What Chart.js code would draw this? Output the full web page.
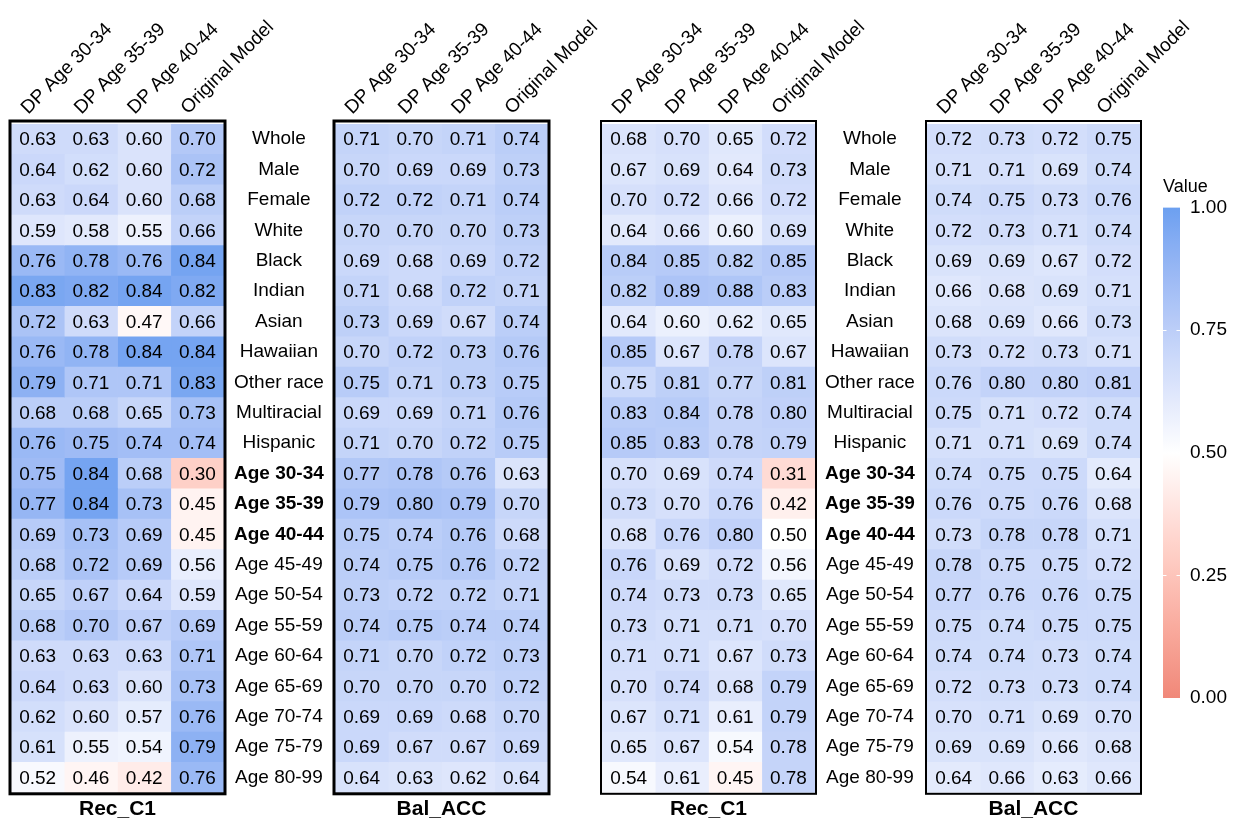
<!DOCTYPE html>
<html>
<head>
<meta charset="utf-8">
<script src="https://cdn.jsdelivr.net/npm/chart.js@4.4.1/dist/chart.umd.min.js"></script>
<style>
  html, body { margin: 0; padding: 0; background: #fff; }
  body { width: 1243px; height: 824px; position: relative; overflow: hidden; }
  canvas { position: absolute; top: 0; }
</style>
</head>
<body>
<canvas id="p1" width="334" height="824" style="left:0px"></canvas>
<canvas id="p2" width="287" height="824" style="left:331px"></canvas>
<canvas id="p3" width="335" height="824" style="left:591px"></canvas>
<canvas id="p4" width="287" height="824" style="left:923px"></canvas>
<canvas id="scale" width="93" height="824" style="left:1150px"></canvas>
<script>
// ---- categories ----
const groups = ['Whole', 'Male', 'Female', 'White', 'Black', 'Indian', 'Asian', 'Hawaiian',
  'Other race', 'Multiracial', 'Hispanic', 'Age 30-34', 'Age 35-39', 'Age 40-44', 'Age 45-49',
  'Age 50-54', 'Age 55-59', 'Age 60-64', 'Age 65-69', 'Age 70-74', 'Age 75-79', 'Age 80-99'];
const models = ['DP Age 30-34', 'DP Age 35-39', 'DP Age 40-44', 'Original Model'];
const protectedGroups = ['Age 30-34', 'Age 35-39', 'Age 40-44'];

// ---- setting A: recall of class 1 ----
const recA_dp3034 = [0.63,0.64,0.63,0.59,0.76,0.83,0.72,0.76,0.79,0.68,0.76,0.75,0.77,0.69,0.68,0.65,0.68,0.63,0.64,0.62,0.61,0.52];
const recA_dp3539 = [0.63,0.62,0.64,0.58,0.78,0.82,0.63,0.78,0.71,0.68,0.75,0.84,0.84,0.73,0.72,0.67,0.70,0.63,0.63,0.60,0.55,0.46];
const recA_dp4044 = [0.60,0.60,0.60,0.55,0.76,0.84,0.47,0.84,0.71,0.65,0.74,0.68,0.73,0.69,0.69,0.64,0.67,0.63,0.60,0.57,0.54,0.42];
const recA_orig   = [0.70,0.72,0.68,0.66,0.84,0.82,0.66,0.84,0.83,0.73,0.74,0.30,0.45,0.45,0.56,0.59,0.69,0.71,0.73,0.76,0.79,0.76];

// ---- setting A: balanced accuracy ----
const balA_dp3034 = [0.71,0.70,0.72,0.70,0.69,0.71,0.73,0.70,0.75,0.69,0.71,0.77,0.79,0.75,0.74,0.73,0.74,0.71,0.70,0.69,0.69,0.64];
const balA_dp3539 = [0.70,0.69,0.72,0.70,0.68,0.68,0.69,0.72,0.71,0.69,0.70,0.78,0.80,0.74,0.75,0.72,0.75,0.70,0.70,0.69,0.67,0.63];
const balA_dp4044 = [0.71,0.69,0.71,0.70,0.69,0.72,0.67,0.73,0.73,0.71,0.72,0.76,0.79,0.76,0.76,0.72,0.74,0.72,0.70,0.68,0.67,0.62];
const balA_orig   = [0.74,0.73,0.74,0.73,0.72,0.71,0.74,0.76,0.75,0.76,0.75,0.63,0.70,0.68,0.72,0.71,0.74,0.73,0.72,0.70,0.69,0.64];

// ---- setting B: recall of class 1 ----
const recB_dp3034 = [0.68,0.67,0.70,0.64,0.84,0.82,0.64,0.85,0.75,0.83,0.85,0.70,0.73,0.68,0.76,0.74,0.73,0.71,0.70,0.67,0.65,0.54];
const recB_dp3539 = [0.70,0.69,0.72,0.66,0.85,0.89,0.60,0.67,0.81,0.84,0.83,0.69,0.70,0.76,0.69,0.73,0.71,0.71,0.74,0.71,0.67,0.61];
const recB_dp4044 = [0.65,0.64,0.66,0.60,0.82,0.88,0.62,0.78,0.77,0.78,0.78,0.74,0.76,0.80,0.72,0.73,0.71,0.67,0.68,0.61,0.54,0.45];
const recB_orig   = [0.72,0.73,0.72,0.69,0.85,0.83,0.65,0.67,0.81,0.80,0.79,0.31,0.42,0.50,0.56,0.65,0.70,0.73,0.79,0.79,0.78,0.78];

// ---- setting B: balanced accuracy ----
const balB_dp3034 = [0.72,0.71,0.74,0.72,0.69,0.66,0.68,0.73,0.76,0.75,0.71,0.74,0.76,0.73,0.78,0.77,0.75,0.74,0.72,0.70,0.69,0.64];
const balB_dp3539 = [0.73,0.71,0.75,0.73,0.69,0.68,0.69,0.72,0.80,0.71,0.71,0.75,0.75,0.78,0.75,0.76,0.74,0.74,0.73,0.71,0.69,0.66];
const balB_dp4044 = [0.72,0.69,0.73,0.71,0.67,0.69,0.66,0.73,0.80,0.72,0.69,0.75,0.76,0.78,0.75,0.76,0.75,0.73,0.73,0.69,0.66,0.63];
const balB_orig   = [0.75,0.74,0.76,0.74,0.72,0.71,0.73,0.71,0.81,0.74,0.74,0.64,0.68,0.71,0.72,0.75,0.75,0.74,0.74,0.70,0.68,0.66];

// ---- colour scale ticks ----
const scaleLimits = [0, 1];
const scaleTicks = [0, 0.25, 0.5, 0.75, 1];

// ---- colour helpers (CIELAB interpolation, white midpoint at 0.5) ----
const LOW = [240, 136, 121], MID = [255, 255, 255], HIGH = [108, 160, 240];
const toLin = c => { c /= 255; return c <= 0.04045 ? c / 12.92 : Math.pow((c + 0.055) / 1.055, 2.4); };
const fromLin = c => { const v = c <= 0.0031308 ? 12.92 * c : 1.055 * Math.pow(c, 1 / 2.4) - 0.055; return Math.round(Math.max(0, Math.min(1, v)) * 255); };
function rgbToLab(rgb) {
  const [R, G, B] = rgb.map(toLin);
  const X = (0.4124 * R + 0.3576 * G + 0.1805 * B) / 0.95047;
  const Y = 0.2126 * R + 0.7152 * G + 0.0722 * B;
  const Z = (0.0193 * R + 0.1192 * G + 0.9505 * B) / 1.08883;
  const f = t => t > 0.008856 ? Math.cbrt(t) : 7.787 * t + 16 / 116;
  const fx = f(X), fy = f(Y), fz = f(Z);
  return [116 * fy - 16, 500 * (fx - fy), 200 * (fy - fz)];
}
function labToRgb(lab) {
  const fy = (lab[0] + 16) / 116, fx = fy + lab[1] / 500, fz = fy - lab[2] / 200;
  const inv = t => { const t3 = t * t * t; return t3 > 0.008856 ? t3 : (t - 16 / 116) / 7.787; };
  const X = inv(fx) * 0.95047, Y = inv(fy), Z = inv(fz) * 1.08883;
  return [3.2406 * X - 1.5372 * Y - 0.4986 * Z, -0.9689 * X + 1.8758 * Y + 0.0415 * Z, 0.0557 * X - 0.2040 * Y + 1.0570 * Z].map(fromLin);
}
const LAB_LOW = rgbToLab(LOW), LAB_MID = rgbToLab(MID), LAB_HIGH = rgbToLab(HIGH);
function mixLab(a, b, t) {
  const [r, g, bl] = labToRgb(a.map((v, i) => v + (b[i] - v) * t));
  return `rgb(${r},${g},${bl})`;
}
function fillFor(v, blueGain, redGain) {
  const d = v - 0.5;
  return d >= 0 ? mixLab(LAB_MID, LAB_HIGH, Math.min(1, d * blueGain))
                : mixLab(LAB_MID, LAB_LOW, Math.min(1, -d * redGain));
}

// ---- chart defaults ----
const FONT = '"Liberation Sans", Arial, Helvetica, sans-serif';
Chart.defaults.font.family = FONT;
Chart.defaults.color = '#000';

// value text in every cell
const cellText = {
  id: 'cellText',
  afterDatasetsDraw(chart) {
    const ctx = chart.ctx;
    ctx.save();
    ctx.font = `19px ${FONT}`;
    ctx.fillStyle = '#000';
    ctx.textAlign = 'center';
    ctx.textBaseline = 'middle';
    chart.data.datasets.forEach((ds, di) => {
      chart.getDatasetMeta(di).data.forEach((el, i) => {
        const p = el.getCenterPoint();
        ctx.fillText(ds.values[i].toFixed(2), p.x, p.y + 1);
      });
    });
    ctx.restore();
  }
};

// black frame around the heat map
const panelFrame = {
  id: 'panelFrame',
  afterDraw(chart, args, opts) {
    if (!opts.width) return;
    const a = chart.chartArea, ctx = chart.ctx;
    const top = a.top - opts.gapTop, left = a.left - opts.gap;
    ctx.save();
    ctx.strokeStyle = '#000';
    ctx.lineWidth = opts.width;
    ctx.strokeRect(left, top, a.right + opts.gap - left, a.bottom + opts.gap - top);
    ctx.restore();
  }
};

function heatmap(canvasId, title, series, cfg) {
  const datasets = series.map((vals, j) => ({
    label: models[j],
    values: vals,
    data: vals.map(() => 1),            // each cell spans one model column
    backgroundColor: vals.map(v => fillFor(v, cfg.blueGain, cfg.redGain)),
    borderWidth: 0,
    categoryPercentage: 1,
    barPercentage: 1
  }));
  return new Chart(document.getElementById(canvasId), {
    type: 'bar',
    data: { labels: groups, datasets },
    plugins: [cellText, panelFrame],
    options: {
      indexAxis: 'y',
      responsive: false,
      animation: false,
      events: [],
      layout: { padding: { left: cfg.padLeft, right: cfg.padRight, top: 0, bottom: 0 } },
      scales: {
        x: {
          type: 'linear', position: 'top', stacked: true, min: 0, max: models.length,
          grid: { display: false, drawTicks: false }, border: { display: false },
          afterBuildTicks: s => { s.ticks = models.map((_, i) => ({ value: i + 0.5 })); },
          ticks: {
            autoSkip: false, minRotation: 45, maxRotation: 45, padding: 5, labelOffset: 3,
            color: '#000', font: { size: 19 },
            callback: (v, i) => models[i]
          },
          afterFit: s => { s.height = 124; s.paddingLeft = 0; s.paddingRight = 0; }
        },
        y: {
          type: 'category', position: 'right', stacked: true, offset: true,
          display: cfg.showGroups,
          grid: { display: false, drawTicks: false }, border: { display: false },
          ticks: {
            autoSkip: false, padding: 10, crossAlign: 'center', color: '#000',
            font: ctx => ({ size: 19, weight: protectedGroups.includes(groups[ctx.index]) ? 'bold' : 'normal' })
          },
          afterFit: s => { s.width = cfg.groupWidth; s.paddingTop = 0; s.paddingBottom = 0; }
        }
      },
      plugins: {
        legend: { display: false },
        tooltip: { enabled: false },
        title: {
          display: true, text: title, position: 'bottom', fullSize: false, color: '#000',
          font: { size: 21, weight: 'bold' }, padding: { top: 4, bottom: 2 }
        },
        panelFrame: { width: cfg.frame, gap: 1, gapTop: 3 }
      }
    }
  });
}

heatmap('p1', 'Rec_C1', [recA_dp3034, recA_dp3539, recA_dp4044, recA_orig],
  { padLeft: 11, padRight: 0, showGroups: true, groupWidth: 110, blueGain: 2.8, redGain: 2.0, frame: 3 });
heatmap('p2', 'Bal_ACC', [balA_dp3034, balA_dp3539, balA_dp4044, balA_orig],
  { padLeft: 4, padRight: 70, showGroups: false, groupWidth: 0, blueGain: 2.1, redGain: 2.0, frame: 3 });
heatmap('p3', 'Rec_C1', [recB_dp3034, recB_dp3539, recB_dp4044, recB_orig],
  { padLeft: 11, padRight: 0, showGroups: true, groupWidth: 111, blueGain: 1.55, redGain: 1.6, frame: 2 });
heatmap('p4', 'Bal_ACC', [balB_dp3034, balB_dp3539, balB_dp4044, balB_orig],
  { padLeft: 4, padRight: 70, showGroups: false, groupWidth: 0, blueGain: 1.5, redGain: 1.6, frame: 2 });

// ---- colour bar ----
const barTicks = {
  id: 'barTicks',
  afterDatasetsDraw(chart) {
    const a = chart.chartArea, y = chart.scales.y, ctx = chart.ctx;
    ctx.save();
    ctx.strokeStyle = '#fff';
    ctx.lineWidth = 1;
    scaleTicks.filter(v => v > scaleLimits[0] && v < scaleLimits[1]).forEach(v => {
      const py = Math.round(y.getPixelForValue(v)) + 0.5;
      ctx.beginPath();
      ctx.moveTo(a.left, py); ctx.lineTo(a.left + 3.5, py);
      ctx.moveTo(a.right - 3.5, py); ctx.lineTo(a.right, py);
      ctx.stroke();
    });
    ctx.restore();
  }
};

new Chart(document.getElementById('scale'), {
  type: 'bar',
  data: {
    labels: ['Value'],
    datasets: [{
      data: [scaleLimits],
      borderWidth: 0,
      categoryPercentage: 1,
      barPercentage: 1,
      backgroundColor: ctx => {
        const area = ctx.chart.chartArea;
        if (!area) return 'transparent';
        const g = ctx.chart.ctx.createLinearGradient(0, area.bottom, 0, area.top);
        for (let i = 0; i <= 40; i++) {
          const t = i / 40;
          g.addColorStop(t, fillFor(scaleLimits[0] + t * (scaleLimits[1] - scaleLimits[0]), 2, 2));
        }
        return g;
      }
    }]
  },
  plugins: [barTicks],
  options: {
    responsive: false,
    animation: false,
    events: [],
    layout: { padding: { left: 13, right: 0, top: 176, bottom: 126 } },
    scales: {
      x: { display: false },
      y: {
        min: scaleLimits[0], max: scaleLimits[1], position: 'right',
        grid: { display: false, drawTicks: false }, border: { display: false },
        afterBuildTicks: s => { s.ticks = scaleTicks.map(v => ({ value: v })); },
        ticks: { padding: 10, color: '#000', font: { size: 19 }, callback: v => v.toFixed(2) },
        afterFit: s => { s.width = 63; s.paddingTop = 0; s.paddingBottom = 0; }
      }
    },
    plugins: {
      legend: { display: false },
      tooltip: { enabled: false },
      title: {
        display: true, text: 'Value', position: 'top', align: 'start', color: '#000',
        font: { size: 18, weight: 'normal' }, padding: { top: 0, bottom: 10 }
      }
    }
  }
});
</script>
</body>
</html>
